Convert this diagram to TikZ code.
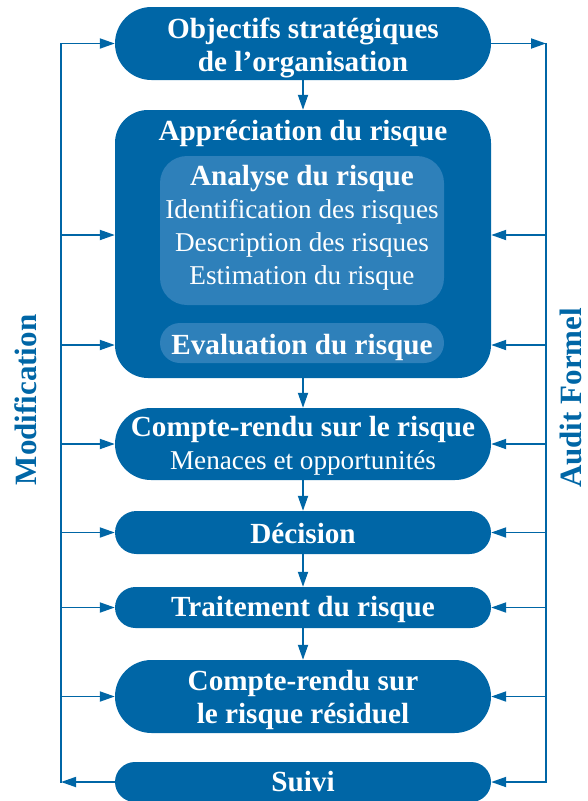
\documentclass[tikz,border=0pt]{standalone}
\usepackage{fontspec}
\setmainfont{Liberation Serif}
\usetikzlibrary{arrows.meta}
\definecolor{dblue}{RGB}{0,102,166}
\definecolor{lblue}{RGB}{46,128,186}
\newcommand{\bsz}{\fontsize{29.2}{33}\selectfont\bfseries}
\newcommand{\rsz}{\fontsize{27.2}{33}\selectfont}
\begin{document}
\begin{tikzpicture}[x=1pt,y=-1pt,
  box/.style={fill=dblue,inner sep=0pt,minimum width=376pt},
  inbox/.style={fill=lblue,inner sep=0pt,minimum width=284pt},
  lbl/.style={text=white,inner sep=0pt,align=center,font=\bsz},
  conn/.style={draw=dblue,line width=1.8pt},
  arr/.style={conn,-{Triangle[length=15pt,width=10pt]}},
  side/.style={text=dblue,font=\fontsize{31}{33}\selectfont\bfseries,rotate=90}]
\useasboundingbox (0,0) rectangle (587,801);
% boxes
\node[box,minimum height=73pt,rounded corners=36.5pt] (obj) at (303,43.5) {};
\node[lbl] (objt) at (303,47.5) {Objectifs stratégiques\\de l’organisation};
\node[box,minimum height=268pt,rounded corners=33pt] (appr) at (303,244) {};
\node[lbl] (apprt) at (303,133) {Appréciation du risque};
\node[inbox,minimum height=149pt,rounded corners=27pt] (ana) at (302,230.5) {};
\node[lbl,font=\rsz] (anat) at (302,228) {{\bsz Analyse du risque}\\Identification des risques\\Description des risques\\Estimation du risque};
\node[inbox,minimum height=40pt,rounded corners=20pt] (eval) at (302,343) {};
\node[lbl] (evalt) at (302,347) {Evaluation du risque};
\node[box,minimum height=72pt,rounded corners=36pt] (crb) at (303,444) {};
\node[lbl,font=\rsz] (crbt) at (303,446) {{\bsz Compte-rendu sur le risque}\\Menaces et opportunités};
\node[box,minimum height=43pt,rounded corners=21.5pt] (dec) at (303,532.5) {};
\node[lbl] (dect) at (303,533) {Décision};
\node[box,minimum height=41pt,rounded corners=20.5pt] (trt) at (303,607.5) {};
\node[lbl] (trtt) at (303,609.5) {Traitement du risque};
\node[box,minimum height=73pt,rounded corners=36.5pt] (crr) at (303,696.5) {};
\node[lbl] (crrt) at (303,699.5) {Compte-rendu sur\\le risque résiduel};
\node[box,minimum height=40pt,rounded corners=20pt] (suivi) at (303,782) {};
\node[lbl] (suivit) at (303,782) {Suivi};
% side labels
\node[side] (modif) at (26,400) {Modification};
\node[side] (audit) at (571,398) {Audit Formel};
% vertical flow
\draw[arr] (obj.south) -- (appr.north);
\draw[arr] (appr.south) -- (crb.north);
\draw[arr] (crb.south) -- (dec.north);
\draw[arr] (dec.south) -- (trt.north);
\draw[arr] (trt.south) -- (crr.north);
% left loop
\coordinate (lt) at (61,43.5);
\coordinate (lb) at (61,782);
\coordinate (la) at (61,235);
\coordinate (le) at (61,345);
\draw[arr] (suivi.west) -- (lb);
\draw[conn,line cap=rect] (lb) -- (lt);
\draw[arr] (lt) -- (obj.west);
\draw[arr] (la) -- (appr.west |- la);
\draw[arr] (le) -- (appr.west |- le);
\draw[arr] (lt |- crb.west) -- (crb.west);
\draw[arr] (lt |- dec.west) -- (dec.west);
\draw[arr] (lt |- trt.west) -- (trt.west);
\draw[arr] (lt |- crr.west) -- (crr.west);
% right loop
\coordinate (rt) at (546,43.5);
\coordinate (rb) at (546,782);
\coordinate (ra) at (546,235);
\coordinate (re) at (546,345);
\draw[arr] (obj.east) -- (rt);
\draw[conn,line cap=rect] (rt) -- (rb);
\draw[arr] (rb) -- (suivi.east);
\draw[arr] (ra) -- (appr.east |- ra);
\draw[arr] (re) -- (appr.east |- re);
\draw[arr] (rt |- crb.east) -- (crb.east);
\draw[arr] (rt |- dec.east) -- (dec.east);
\draw[arr] (rt |- trt.east) -- (trt.east);
\draw[arr] (rt |- crr.east) -- (crr.east);
\end{tikzpicture}
\end{document}
